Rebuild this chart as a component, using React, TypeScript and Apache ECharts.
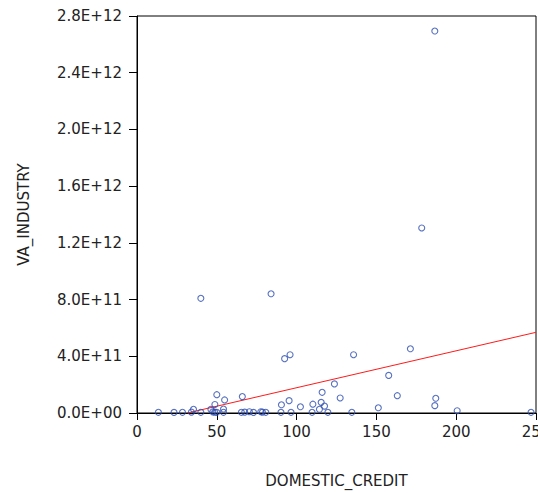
import React, { useEffect, useRef } from "react";
import * as echarts from "echarts";

// DOMESTIC_CREDIT values
const domesticCredit: number[] = [
  13.4, 23.2, 28.5, 34.1, 35.4, 40.0, 46.3, 47.5, 48.7, 50.0,
  48.8, 50.0, 54.2, 54.2, 54.9, 65.4, 67.5, 66.0, 70.4, 73.0,
  77.6, 78.6, 80.7, 90.2, 90.5, 95.3, 96.5, 102.4, 109.7, 110.2,
  114.3, 115.4, 116.0, 117.5, 119.6, 123.7, 127.3, 134.6, 151.2, 157.7,
  163.1, 186.6, 187.2, 200.6, 246.9, 40.0, 84.0, 92.5, 95.9, 135.7,
  171.3, 178.4, 186.6,
];

// VA_INDUSTRY values
const vaIndustry: number[] = [
  5e9, 4e9, 5e9, 6e9, 2.6e10, 5e9, 2.6e10, 8e9, 6e9, 5e9,
  6.0e10, 1.29e11, 2.8e10, 5e9, 9.2e10, 5e9, 6e9, 1.16e11, 9e9, 4e9,
  9e9, 6e9, 5e9, 5e9, 5.8e10, 8.7e10, 5e9, 4.4e10, 5e9, 6.2e10,
  2.6e10, 7.5e10, 1.46e11, 4.9e10, 5e9, 2.05e11, 1.06e11, 5e9, 3.7e10, 2.65e11,
  1.22e11, 5.2e10, 1.04e11, 1.6e10, 5e9, 8.09e11, 8.41e11, 3.83e11, 4.11e11, 4.11e11,
  4.53e11, 1.305e12, 2.694e12,
];

// Fitted regression line end points
const fitX: number[] = [31.6, 250];
const fitY: number[] = [0, 5.69e11];

const yTicks = { min: 0, max: 2.8e12, interval: 4e11 };
const xTicks = { min: 0, max: 250, interval: 50 };

function fmtExp(v: number): string {
  const s = v.toExponential(1);
  const [m, e] = s.split("e");
  const sign = e.startsWith("-") ? "-" : "+";
  const digits = e.replace(/[+-]/, "").padStart(2, "0");
  return `${m}E${sign}${digits}`;
}

export default function App() {
  const ref = useRef<HTMLDivElement>(null);
  useEffect(() => {
    document.body.style.margin = "0";
    if (!ref.current) return;
    const chart = echarts.init(ref.current, null, { renderer: "svg" });
    const font = "DejaVu Sans";
    const textColor = "#222";
    chart.setOption({
      animation: false,
      backgroundColor: "#fff",
      grid: {
        left: 137,
        right: 2,
        top: 16,
        bottom: 80,
        show: true,
        borderColor: "#000",
        borderWidth: 1,
        containLabel: false,
        outerBoundsMode: "none",
      },
      xAxis: {
        type: "value",
        min: xTicks.min,
        max: xTicks.max,
        interval: xTicks.interval,
        name: "DOMESTIC_CREDIT",
        nameLocation: "middle",
        nameGap: 60,
        nameTextStyle: { fontFamily: font, fontSize: 15, color: textColor },
        axisLine: { show: true, onZero: false, lineStyle: { color: "#000", width: 1 } },
        axisTick: { show: true, inside: false, length: 7, lineStyle: { color: "#000" } },
        axisLabel: { fontFamily: font, fontSize: 15, color: textColor, margin: 11, hideOverlap: false },
        splitLine: { show: false },
      },
      yAxis: {
        type: "value",
        min: yTicks.min,
        max: yTicks.max,
        interval: yTicks.interval,
        name: "VA_INDUSTRY",
        nameLocation: "middle",
        nameGap: 106,
        nameRotate: 90,
        nameTextStyle: { fontFamily: font, fontSize: 15, color: textColor },
        axisLine: { show: true, onZero: false, lineStyle: { color: "#000", width: 1 } },
        axisTick: { show: true, inside: false, length: 8, lineStyle: { color: "#000" } },
        axisLabel: {
          fontFamily: font,
          fontSize: 15,
          color: textColor,
          margin: 15,
          formatter: (v: number) => fmtExp(v),
        },
        splitLine: { show: false },
      },
      series: [
        {
          type: "line",
          data: fitX.map((x, i) => [x, fitY[i]]),
          symbol: "none",
          lineStyle: { color: "#ff1a1a", width: 1 },
          clip: true,
          z: 1,
        },
        {
          type: "scatter",
          data: domesticCredit.map((x, i) => [x, vaIndustry[i]]),
          symbol: "circle",
          symbolSize: 6,
          itemStyle: { color: "rgba(0,0,0,0)", borderColor: "#2d4db0", borderWidth: 1.1 },
          clip: false,
          z: 2,
        },
      ],
    });
    return () => chart.dispose();
  }, []);
  return <div ref={ref} style={{ width: 538, height: 493 }} />;
}
